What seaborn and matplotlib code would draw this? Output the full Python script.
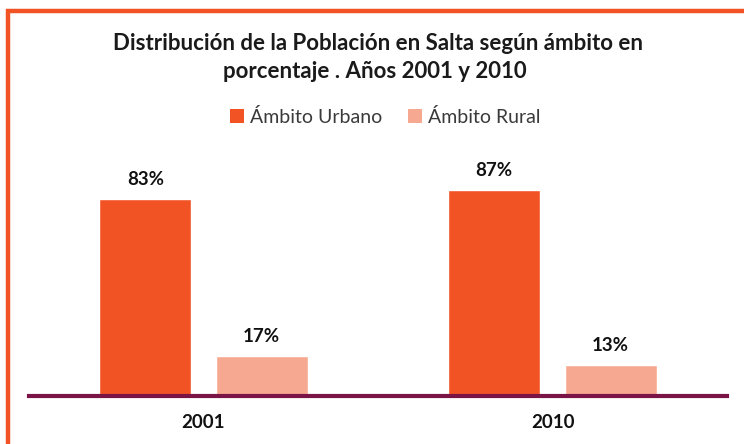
import pandas as pd
import seaborn as sns
import matplotlib.pyplot as plt
from matplotlib.lines import Line2D
from matplotlib.patches import Patch

years = ["2001", "2010"]
ambitos = ["Ámbito Urbano", "Ámbito Rural"]
urbano = [83, 87]
rural = [17, 13]

COLORS = {"Ámbito Urbano": "#F15324", "Ámbito Rural": "#F7A890"}

df = pd.DataFrame({
    "year": years * 2,
    "ambito": [ambitos[0]] * 2 + [ambitos[1]] * 2,
    "pct": urbano + rural,
})

sns.set_theme(style="white")
plt.rcParams['font.family'] = ['Lato', 'DejaVu Sans']

fig = plt.figure(figsize=(7.44, 4.44), dpi=100)
W, H = 744, 444
# axes placed in pixel terms: x 29..727, baseline at y=396, 100% at y=159
ax = fig.add_axes([29 / W, (H - 396) / H, (727 - 29) / W, (396 - 159) / H])

sns.barplot(data=df, x="year", y="pct", hue="ambito", order=years,
            hue_order=ambitos, palette=COLORS, width=0.667, gap=0.21,
            saturation=1, ax=ax, legend=False)

ax.set_xlim(-0.5, 1.5)
ax.set_ylim(0, 100)
ax.set_xlabel("")
ax.set_ylabel("")
ax.set_yticks([])
ax.tick_params(axis="x", length=0, pad=13)
for lbl in ax.get_xticklabels():
    lbl.set_fontweight("bold")
    lbl.set_fontsize(13.5)
    lbl.set_color("#111111")
for s in ["top", "right", "left"]:
    ax.spines[s].set_visible(False)
ax.spines["bottom"].set_color("#7A1446")
ax.spines["bottom"].set_linewidth(3)

# value labels
for cont in ax.containers:
    ax.bar_label(cont, labels=[f"{v:.0f}%" for v in cont.datavalues],
                 padding=8, fontsize=13.5, fontweight="bold", color="#111111")

# title
fig.text(378 / W, 1 - 44 / H, "Distribución de la Población en Salta según ámbito en",
         ha="center", va="center", fontsize=16, fontweight="bold", color="#1a1a1a")
fig.text(375 / W, 1 - 72 / H, "porcentaje . Años 2001 y 2010",
         ha="center", va="center", fontsize=16, fontweight="bold", color="#1a1a1a")

# legend
handles = [Patch(facecolor=COLORS[a], edgecolor="none") for a in ambitos]
leg = fig.legend(handles, ambitos, loc="center", bbox_to_anchor=(385 / W, 1 - 117 / H),
                 ncol=2, frameon=False, handlelength=0.75, handleheight=0.75,
                 handletextpad=0.3, columnspacing=1.3,
                 prop={"family": "Lato", "weight": "normal", "size": 14})
for t in leg.get_texts():
    t.set_color("#3a3a3a")

# orange frame (top and left)
fig.add_artist(Line2D([6 / W, 1], [1 - 11 / H, 1 - 11 / H], color="#F15324",
                      lw=3.2, transform=fig.transFigure, solid_capstyle="butt"))
fig.add_artist(Line2D([8 / W, 8 / W], [1 - 9 / H, 0], color="#F15324",
                      lw=3.2, transform=fig.transFigure, solid_capstyle="butt"))

fig.savefig("out.png", dpi=100, facecolor="white")
